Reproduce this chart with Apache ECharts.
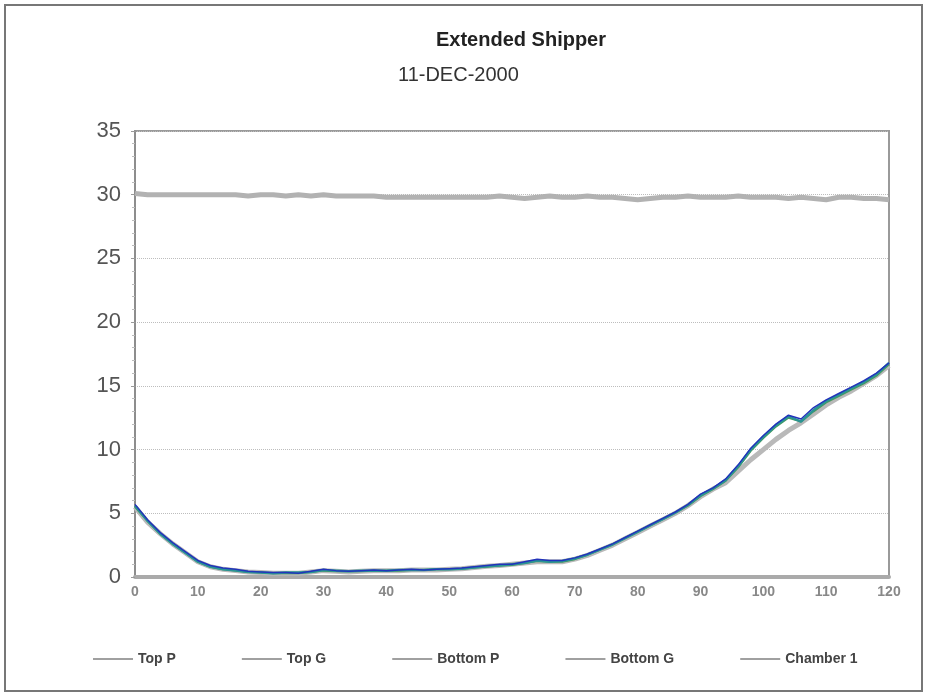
<!DOCTYPE html>
<html>
<head>
<meta charset="utf-8">
<script src="https://cdn.jsdelivr.net/npm/echarts@6/dist/echarts.min.js"></script>
<style>
html,body{margin:0;padding:0;background:#fff;}
#c{width:939px;height:697px;}
</style>
</head>
<body>
<div id="c"></div>
<script>
const xs = [0,2,4,6,8,10,12,14,16,18,20,22,24,26,28,30,32,34,36,38,40,42,44,46,48,50,52,54,56,58,60,62,64,66,68,70,72,74,76,78,80,82,84,86,88,90,92,94,96,98,100,102,104,106,108,110,112,114,116,118,120];
const topP = [5.7,4.5,3.5,2.7,2.0,1.3,0.9,0.7,0.6,0.45,0.4,0.35,0.35,0.3,0.45,0.6,0.5,0.45,0.5,0.55,0.5,0.55,0.6,0.55,0.6,0.65,0.7,0.8,0.9,1.0,1.0,1.2,1.4,1.3,1.3,1.5,1.8,2.2,2.6,3.1,3.6,4.1,4.6,5.1,5.7,6.5,7.0,7.7,8.8,10.1,11.1,12.0,12.7,12.4,13.3,13.9,14.4,14.9,15.4,16.0,16.8];
const topG = [5.5,4.3,3.4,2.6,1.9,1.2,0.8,0.6,0.5,0.4,0.35,0.3,0.3,0.3,0.4,0.5,0.45,0.4,0.45,0.5,0.5,0.5,0.55,0.55,0.55,0.6,0.65,0.75,0.85,0.9,1.0,1.1,1.2,1.2,1.2,1.4,1.7,2.1,2.5,3.0,3.5,4.0,4.5,5.0,5.6,6.3,6.9,7.4,8.3,9.2,10.0,10.8,11.5,12.1,12.8,13.5,14.1,14.6,15.2,15.8,16.6];
const bottomP = [5.6,4.4,3.4,2.6,1.9,1.2,0.8,0.6,0.5,0.4,0.35,0.3,0.35,0.35,0.4,0.55,0.5,0.45,0.5,0.5,0.5,0.55,0.55,0.55,0.6,0.6,0.65,0.75,0.85,0.9,1.0,1.1,1.3,1.2,1.25,1.45,1.75,2.15,2.55,3.05,3.55,4.05,4.55,5.05,5.65,6.4,6.95,7.6,8.7,10.0,11.0,11.9,12.6,12.2,13.1,13.8,14.3,14.8,15.3,15.9,16.8];
const bottomG = [5.5,4.4,3.4,2.6,1.9,1.2,0.8,0.6,0.5,0.4,0.35,0.3,0.3,0.3,0.4,0.5,0.45,0.45,0.45,0.5,0.5,0.5,0.55,0.55,0.6,0.6,0.65,0.75,0.8,0.9,0.95,1.1,1.25,1.2,1.2,1.4,1.75,2.15,2.55,3.05,3.55,4.05,4.55,5.05,5.6,6.35,6.9,7.55,8.6,9.9,10.9,11.8,12.5,12.2,13.0,13.7,14.2,14.7,15.2,15.8,16.7];
const chamber1 = [30.1,30.0,30.0,30.0,30.0,30.0,30.0,30.0,30.0,29.9,30.0,30.0,29.9,30.0,29.9,30.0,29.9,29.9,29.9,29.9,29.8,29.8,29.8,29.8,29.8,29.8,29.8,29.8,29.8,29.9,29.8,29.7,29.8,29.9,29.8,29.8,29.9,29.8,29.8,29.7,29.6,29.7,29.8,29.8,29.9,29.8,29.8,29.8,29.9,29.8,29.8,29.8,29.7,29.8,29.7,29.6,29.8,29.8,29.7,29.7,29.6];
const seriesNames = ['Top P','Top G','Bottom P','Bottom G','Chamber 1'];
const yTicks = [0,5,10,15,20,25,30,35];
const xTicks = [0,10,20,30,40,50,60,70,80,90,100,110,120];

const pairs = arr => xs.map((x,i)=>[x,arr[i]]);
const chart = echarts.init(document.getElementById('c'));
const mk = (name, data, color, width, z) => ({
  name, type:'line', data:pairs(data), showSymbol:false, smooth:false,
  lineStyle:{color, width}, itemStyle:{color}, z
});
chart.setOption({
  animation:false,
  backgroundColor:'#fff',
  graphic:[
    {type:'rect', shape:{x:5,y:5,width:917,height:686}, style:{fill:'none', stroke:'#777', lineWidth:2}, z:-1},
    {type:'text', left:436, top:30, style:{text:'Extended Shipper', font:'bold 20px "Liberation Sans", Arial, sans-serif', fill:'#222'}},
    {type:'text', left:398, top:65, style:{text:'11-DEC-2000', font:'20px "Liberation Sans", Arial, sans-serif', fill:'#333'}}
  ],
  grid:{left:135, right:50, top:131, bottom:120, show:true, borderColor:'#9a9a9a', borderWidth:2},
  legend:{
    data:seriesNames, top:647, left:88, itemWidth:40, itemHeight:2, itemGap:66,
    icon:'rect',
    itemStyle:{color:'#a0a0a0', borderWidth:0},
    textStyle:{fontSize:14, color:'#444', fontWeight:'bold', fontFamily:'"Liberation Sans", Arial, sans-serif'}
  },
  xAxis:{
    type:'value', min:0, max:120, interval:10,
    axisLine:{lineStyle:{color:'#aaa', width:4}},
    axisTick:{show:false},
    splitLine:{show:false},
    axisLabel:{fontSize:14, color:'#888', fontWeight:'bold', margin:8, fontFamily:'"Liberation Sans", Arial, sans-serif'}
  },
  yAxis:{
    type:'value', min:0, max:35, interval:5,
    axisLine:{show:true, lineStyle:{color:'#888', width:1.5}},
    axisTick:{show:true, length:4, lineStyle:{color:'#999'}},
    minorTick:{show:true, splitNumber:5, length:3, lineStyle:{color:'#bbb'}},
    splitLine:{show:true, lineStyle:{color:'#bdbdbd', type:'dotted', width:1}},
    axisLabel:{fontSize:22, color:'#555', margin:14, fontFamily:'"Liberation Sans", Arial, sans-serif'}
  },
  series:[
    mk('Top G', topG, '#b9b9b9', 5, 2),
    mk('Bottom G', bottomG, '#4a9a58', 2, 3),
    mk('Bottom P', bottomP, '#2a9494', 2.5, 4),
    mk('Top P', topP, '#2233bb', 1.5, 5),
    mk('Chamber 1', chamber1, '#b2b2b2', 5, 2)
  ]
});
</script>
</body>
</html>
